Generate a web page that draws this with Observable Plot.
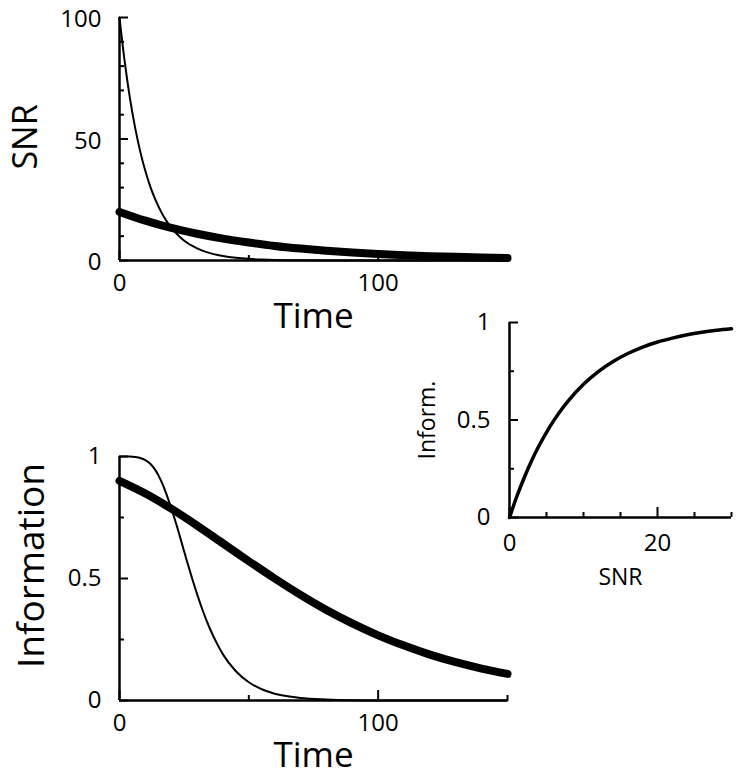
<!DOCTYPE html>
<html>
<head>
<meta charset="utf-8">
<script src="https://cdn.jsdelivr.net/npm/d3@7"></script>
<script src="https://cdn.jsdelivr.net/npm/@observablehq/plot@0.6"></script>
<style>
  html, body { margin: 0; padding: 0; background: white; }
  #wrap { position: relative; width: 739px; height: 777px; background: white; overflow: hidden; }
  #wrap svg { position: absolute; }
</style>
</head>
<body>
<div id="wrap"></div>
<script>
// ---- data ----
const tFast = [0,2,4,6,8,10,12,14,16,18,20,22,24,26,28,30,32,35,38,40,45,50,55,60,65,70,80,90,100,110,120,130,140,150];
const snrFast = [100,81.9,67.0,54.9,44.9,36.8,30.1,24.7,20.2,16.5,13.5,11.1,9.07,7.43,6.08,4.98,4.08,3.02,2.24,1.83,1.11,0.67,0.41,0.25,0.15,0.09,0.03,0.01,0,0,0,0,0,0];
const infoFast = [1.0,1.0,1.0,0.998,0.994,0.985,0.969,0.942,0.902,0.850,0.788,0.721,0.648,0.574,0.503,0.436,0.374,0.293,0.227,0.189,0.120,0.075,0.046,0.028,0.017,0.010,0.004,0.001,0,0,0,0,0,0];

const tSlow = [0,10,20,30,40,50,60,70,80,90,100,110,120,130,140,150];
const snrSlow = [20,16.4,13.4,11.0,9.0,7.4,6.0,4.9,4.0,3.3,2.7,2.2,1.8,1.5,1.2,1.0];
const infoSlow = [0.900,0.848,0.786,0.717,0.644,0.571,0.500,0.433,0.371,0.316,0.267,0.225,0.188,0.157,0.131,0.109];

const snrGrid = [0,1,2,3,4,5,6,7,8,10,12,14,16,18,20,22,24,26,28,30];
const infoCurve = [0,0.109,0.205,0.292,0.369,0.437,0.498,0.553,0.601,0.683,0.748,0.800,0.841,0.874,0.900,0.920,0.937,0.950,0.960,0.968];

// tick values / labels
const timeLabels = [0, 100];
const timeMinor = [50, 150];
const snrLabels = [0, 50, 100];
const snrMinor = [10, 20, 30, 40, 60, 70, 80, 90];
const infoLabels = [0, 0.5, 1];
const infoMinor = [0.25, 0.75];
const snrXLabels = [0, 20];
const snrXMinor = [5, 10, 15, 25, 30];

// ---- tables built from the arrays ----
const fastSNR = tFast.map((t, i) => ({t, v: snrFast[i]}));
const slowSNR = tSlow.map((t, i) => ({t, v: snrSlow[i]}));
const fastInfo = tFast.map((t, i) => ({t, v: infoFast[i]}));
const slowInfo = tSlow.map((t, i) => ({t, v: infoSlow[i]}));
const infoVsSnr = snrGrid.map((s, i) => ({s, v: infoCurve[i]}));

const FONT = "'Open Sans', 'DejaVu Sans', sans-serif";
const plotStyle = {background: "transparent", color: "black", fontFamily: FONT, overflow: "visible"};
const fmt = d => String(d);

function axesMarks({xLabels, xMinor, yLabels, yMinor, xMajorLen, yMajorLen, minorLen, xPad, yPad, yLabelDy = 0, fs}) {
  return [
    Plot.ruleX([0], {strokeWidth: 2.5}),
    Plot.ruleY([0], {strokeWidth: 2.5}),
    Plot.axisY(yMinor, {tickSize: -minorLen, fill: "none", strokeWidth: 2, label: null}),
    Plot.axisY(yLabels, {tickSize: -yMajorLen, fill: "none", strokeWidth: 2, label: null}),
    Plot.axisY(yLabels, {tickSize: 0, stroke: "none", tickPadding: yPad, dy: yLabelDy, fontSize: fs, tickFormat: fmt, label: null}),
    Plot.axisX(xMinor, {tickSize: -minorLen, fill: "none", strokeWidth: 2, label: null}),
    Plot.axisX(xLabels, {tickSize: -xMajorLen, fill: "none", strokeWidth: 2, label: null}),
    Plot.axisX(xLabels, {tickSize: 0, stroke: "none", tickPadding: xPad, fontSize: fs, tickFormat: fmt, label: null})
  ];
}

// ---- top panel: SNR vs Time ----
const panelTop = Plot.plot({
  width: 520, height: 340,
  marginLeft: 119, marginRight: 13, marginTop: 17, marginBottom: 80,
  style: plotStyle,
  x: {domain: [0, 150], label: null},
  y: {domain: [0, 100], label: null},
  marks: [
    ...axesMarks({xLabels: timeLabels, xMinor: timeMinor, yLabels: snrLabels, yMinor: snrMinor,
                  xMajorLen: 10, yMajorLen: 9, minorLen: 5, xPad: 13, yPad: 18, yLabelDy: 2, fs: 24}),
    Plot.line(fastSNR, {x: "t", y: "v", curve: "monotone-x", strokeWidth: 2}),
    Plot.line(slowSNR, {x: "t", y: "v", curve: "monotone-x", strokeWidth: 8, strokeLinecap: "round"}),
    Plot.text(["SNR"], {text: d => d, frameAnchor: "left", textAnchor: "middle", lineAnchor: "middle", rotate: -90, dx: -93, dy: -2, fontSize: 34}),
    Plot.text(["Time"], {text: d => d, frameAnchor: "bottom", textAnchor: "middle", lineAnchor: "middle", dy: 56, fontSize: 35})
  ]
});

// ---- bottom panel: Information vs Time ----
const panelBottom = Plot.plot({
  width: 520, height: 337,
  marginLeft: 119, marginRight: 13, marginTop: 16, marginBottom: 77,
  style: plotStyle,
  x: {domain: [0, 150], label: null},
  y: {domain: [0, 1], label: null},
  marks: [
    ...axesMarks({xLabels: timeLabels, xMinor: timeMinor, yLabels: infoLabels, yMinor: infoMinor,
                  xMajorLen: 10, yMajorLen: 9, minorLen: 5, xPad: 13, yPad: 18, fs: 24}),
    Plot.line(fastInfo, {x: "t", y: "v", curve: "monotone-x", strokeWidth: 2}),
    Plot.line(slowInfo, {x: "t", y: "v", curve: "monotone-x", strokeWidth: 8, strokeLinecap: "round"}),
    Plot.text(["Information"], {text: d => d, frameAnchor: "left", textAnchor: "middle", lineAnchor: "middle", rotate: -90, dx: -87, dy: -13, fontSize: 37}),
    Plot.text(["Time"], {text: d => d, frameAnchor: "bottom", textAnchor: "middle", lineAnchor: "middle", dy: 55, fontSize: 35})
  ]
});

// ---- right panel: Inform. vs SNR ----
const panelRight = Plot.plot({
  width: 334, height: 300,
  marginLeft: 104, marginRight: 8, marginTop: 17, marginBottom: 88,
  style: plotStyle,
  x: {domain: [0, 30], label: null},
  y: {domain: [0, 1], label: null},
  marks: [
    ...axesMarks({xLabels: snrXLabels, xMinor: snrXMinor, yLabels: infoLabels, yMinor: infoMinor,
                  xMajorLen: 10, yMajorLen: 9, minorLen: 5, xPad: 16, yPad: 19, fs: 24}),
    Plot.line(infoVsSnr, {x: "s", y: "v", curve: "monotone-x", strokeWidth: 3.5}),
    Plot.text(["Inform."], {text: d => d, frameAnchor: "left", textAnchor: "middle", lineAnchor: "middle", rotate: -90, dx: -82, fontSize: 23}),
    Plot.text(["SNR"], {text: d => d, frameAnchor: "bottom", textAnchor: "middle", lineAnchor: "middle", dy: 60, fontSize: 23})
  ]
});

const wrap = document.getElementById("wrap");
function place(svg, left, top) {
  svg.style.left = left + "px";
  svg.style.top = top + "px";
  wrap.appendChild(svg);
}
place(panelTop, 0, 0);
place(panelBottom, 0, 440);
place(panelRight, 405, 305);
</script>
</body>
</html>
